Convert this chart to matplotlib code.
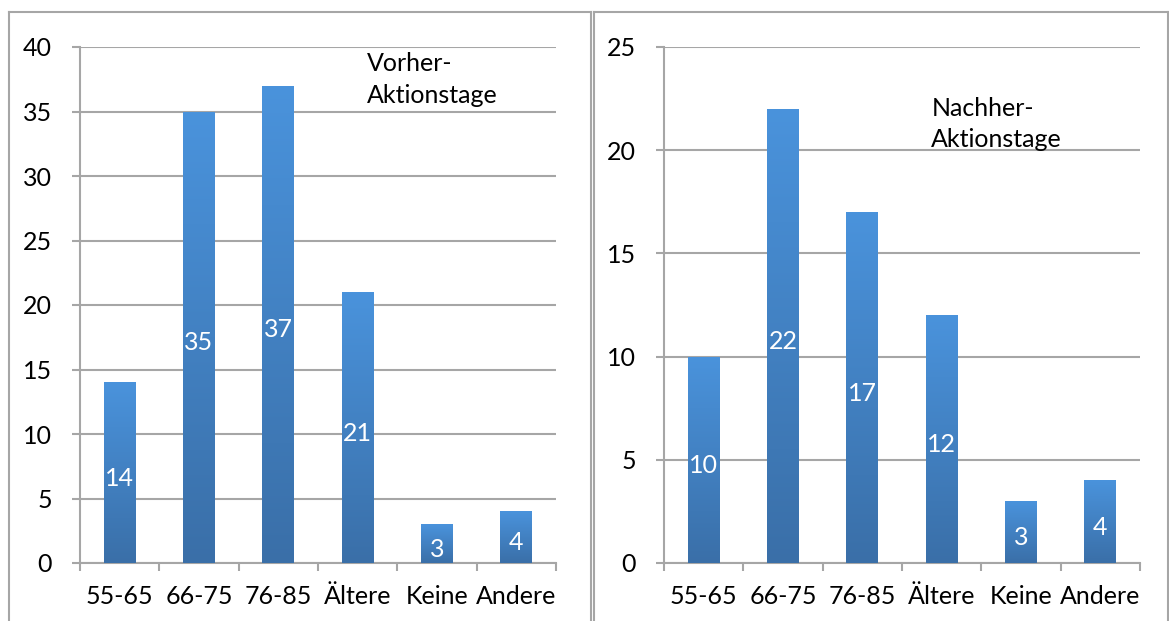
import numpy as np
import matplotlib.pyplot as plt
from matplotlib.colors import LinearSegmentedColormap

# DATA
categories = ['55-65', '66-75', '76-85', 'Ältere', 'Keine', 'Andere']
vorher = [14, 35, 37, 21, 3, 4]
nachher = [10, 22, 17, 12, 3, 4]

plt.rcParams['font.family'] = ['Lato', 'DejaVu Sans']

W, H = 1169, 621
fig = plt.figure(figsize=(W / 100, H / 100), dpi=100)

grad = LinearSegmentedColormap.from_list('bar', ['#3a6fa8', '#4a93dc'])
gray = '#a6a6a6'
fs = 18


def frame(x0, x1):
    # panel border (open at the bottom, like the cropped screenshot)
    fig.add_artist(plt.Line2D([x0 / W, x0 / W], [0, 1 - 12 / H], color=gray, lw=1.5))
    fig.add_artist(plt.Line2D([x0 / W, x1 / W], [1 - 12 / H, 1 - 12 / H], color=gray, lw=1.5))
    fig.add_artist(plt.Line2D([x1 / W, x1 / W], [0, 1 - 12 / H], color=gray, lw=1.5))


def panel(left_px, values, ymax, text, tx, ty):
    ax = fig.add_axes([left_px / W, 58 / H, 476 / W, 516 / H])
    x = np.arange(len(categories))
    bars = ax.bar(x, values, width=0.4, color='#4a90d9', zorder=2)
    grad_img = np.linspace(0, 1, 256).reshape(-1, 1)
    for b, v in zip(bars, values):
        bx, by = b.get_x(), b.get_y()
        im = ax.imshow(grad_img, cmap=grad, origin='lower', aspect='auto',
                       extent=[bx, bx + b.get_width(), by, by + b.get_height()], zorder=3)
        im.set_clip_path(b)
        ax.annotate(str(v), (bx + b.get_width() / 2, v / 2), xytext=(0, -4),
                    textcoords='offset points', color='white', fontsize=fs,
                    ha='center', va='center', zorder=4)
    ax.set_xlim(-0.5, len(categories) - 0.5)
    ax.set_ylim(0, ymax)
    ax.set_yticks(np.arange(0, ymax + 1, 5))
    ax.yaxis.grid(True, color=gray, lw=1.5, zorder=0)
    ax.set_axisbelow(True)
    ax.set_xticks(x)
    ax.set_xticklabels(categories)
    ax.set_xticks(np.arange(-0.5, len(categories)), minor=True)
    ax.tick_params(axis='x', which='major', length=0, pad=16, labelsize=fs)
    ax.tick_params(axis='x', which='minor', length=6, width=1.5, color=gray)
    ax.tick_params(axis='y', length=6, width=1.5, color=gray, pad=14, labelsize=fs)
    for s in ['top', 'right']:
        ax.spines[s].set_visible(False)
    for s in ['left', 'bottom']:
        ax.spines[s].set_color(gray)
        ax.spines[s].set_linewidth(1.5)
    ax.text(tx, ty, text, fontsize=fs, ha='left', va='top', linespacing=1.45, zorder=5)
    return ax


frame(9, 591)
frame(594, 1168)
panel(80, vorher, 40, 'Vorher-\nAktionstage', 3.12, 39.6)
panel(664, nachher, 25, 'Nachher-\nAktionstage', 2.87, 22.6)

fig.savefig('out.png', dpi=100)
